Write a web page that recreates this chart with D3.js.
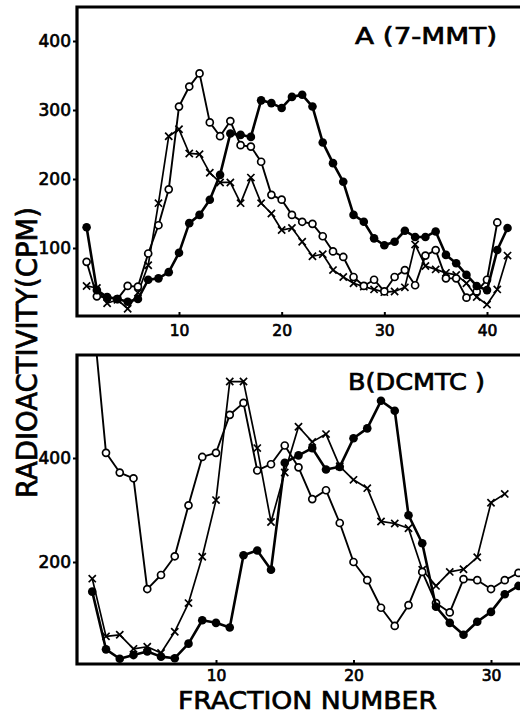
<!DOCTYPE html>
<html lang="en">
  <head>
    <meta charset="UTF-8" />
    <title>Radioactivity by fraction</title>
    <script src="https://d3js.org/d3.v7.min.js"></script>
    <style>
      body {
        margin: 0;
        background: #fff;
      }
      svg {
        display: block;
        font-family: "DejaVu Sans", sans-serif;
      }
      .bold-ish {
        stroke: #000;
        stroke-width: 0.7px;
      }
    </style>
  </head>
  <body>
    <div id="chart"></div>
    <script>
      // panel A (7-MMT), fractions start at 1
      const aFilled = [130, 39, 29, 26, 22, 26, 54, 56, 65, 93, 136, 148, 170, 206, 266, 264, 261, 314, 310, 303, 319, 322, 305, 253, 223, 196, 148, 138, 114, 104, 109, 125, 116, 116, 124, 90, 78, 61, 45, 39, 97, 129];
      const aOpen = [80, 30, 28, 26, 45, 44, 92, 133, 185, 305, 334, 353, 282, 262, 284, 249, 247, 225, 177, 170, 148, 138, 135, 117, 95, 87, 58, 45, 54, 37, 58, 68, 46, 89, 97, 56, 56, 28, 37, 54, 137];
      const aCross = [45, 42, 20, 25, 12, 35, 75, 165, 262, 272, 237, 236, 209, 195, 195, 165, 202, 165, 150, 126, 129, 109, 88, 91, 68, 58, 49, 44, 40, 36, 37, 43, 105, 74, 69, 64, 61, 49, 29, 18, 40, 89];

      // panel B (DCMTC)
      const bFilled = [143, 32, 14, 21, 28, 18, 15, 43, 88, 83, 74, 213, 222, 185, 391, 405, 419, 378, 383, 438, 457, 510, 491, 290, 236, 114, 83, 60, 85, 104, 138, 154];
      const bOpen = [690, 410, 372, 361, 148, 175, 211, 309, 402, 410, 483, 506, 376, 388, 424, 382, 321, 338, 275, 200, 165, 112, 77, 117, 181, 121, 103, 167, 165, 148, 165, 179];
      const bCross = [168, 57, 60, 33, 37, 25, 66, 121, 210, 319, 547, 547, 419, 277, 372, 460, 431, 446, 384, 358, 342, 278, 274, 265, 185, 154, 181, 186, 209, 314, 331];

      const aYTicks = [100, 200, 300, 400];
      const aXTicks = [10, 20, 30, 40];
      const bYTicks = [200, 400];
      const bXTicks = [10, 20, 30];

      const width = 520;
      const height = 714;

      const svg = d3
        .select("#chart")
        .append("svg")
        .attr("width", width)
        .attr("height", height);

      svg.append("rect").attr("width", width).attr("height", height).attr("fill", "#fff");

      const panels = [
        {
          id: "A",
          x: d3.scaleLinear().domain([10, 40]).range([179, 487]),
          y: d3.scaleLinear().domain([100, 400]).range([248, 41]),
          top: 7,
          bottom: 316,
          left: 77,
          xTicks: aXTicks,
          yTicks: aYTicks,
          tickLabelY: 336,
          series: [aFilled, aOpen, aCross],
          label: "A (7-MMT)",
          labelX: 355,
          labelY: 44,
          labelW: 142,
        },
        {
          id: "B",
          x: d3.scaleLinear().domain([10, 30]).range([216, 491]),
          y: d3.scaleLinear().domain([200, 400]).range([562, 458]),
          top: 355,
          bottom: 664,
          left: 77,
          xTicks: bXTicks,
          yTicks: bYTicks,
          tickLabelY: 680.5,
          series: [bFilled, bOpen, bCross],
          label: "B(DCMTC )",
          labelX: 348,
          labelY: 390,
          labelW: 137,
        },
      ];

      const styles = [
        { kind: "filled", width: 2.6 },
        { kind: "open", width: 1.9 },
        { kind: "cross", width: 1.7 },
      ];

      panels.forEach((p) => {
        const g = svg.append("g");

        svg
          .append("clipPath")
          .attr("id", "clip" + p.id)
          .append("rect")
          .attr("x", p.left)
          .attr("y", p.top)
          .attr("width", width - p.left)
          .attr("height", height - p.top);

        const plot = g.append("g").attr("clip-path", `url(#clip${p.id})`);

        // open and crosses underneath, filled on top
        [2, 1, 0].forEach((si) => {
          const vals = p.series[si];
          const st = styles[si];
          const pts = vals.map((v, i) => [p.x(i + 1), p.y(v)]);

          plot
            .append("path")
            .attr("d", d3.line()(pts))
            .attr("fill", "none")
            .attr("stroke", "#000")
            .attr("stroke-width", st.width)
            .attr("stroke-linejoin", "round");

          const m = plot
            .selectAll(null)
            .data(pts)
            .join("g")
            .attr("transform", (d) => `translate(${d[0]},${d[1]})`);

          if (st.kind === "filled") {
            m.append("circle").attr("r", 4.3).attr("fill", "#000");
          } else if (st.kind === "open") {
            m.append("circle")
              .attr("r", 3.5)
              .attr("fill", "#fff")
              .attr("stroke", "#000")
              .attr("stroke-width", 1.7);
          } else {
            m.append("path")
              .attr("d", "M-3.6,-3.6L3.6,3.6M-3.6,3.6L3.6,-3.6")
              .attr("stroke", "#000")
              .attr("stroke-width", 1.7);
          }
        });

        // frame: top, left, bottom (right side is off the page)
        g.append("path")
          .attr("d", `M${width},${p.top}H${p.left}V${p.bottom}H${width}`)
          .attr("fill", "none")
          .attr("stroke", "#000")
          .attr("stroke-width", 3.2);

        const yAxis = d3
          .axisLeft(p.y)
          .tickValues(p.yTicks)
          .tickSize(4)
          .tickPadding(2)
          .tickFormat(d3.format("d"));

        g.append("g")
          .attr("transform", `translate(${p.left},0)`)
          .call(yAxis)
          .call((a) => a.select(".domain").remove())
          .call((a) =>
            a.selectAll(".tick line").attr("stroke", "#000").attr("stroke-width", 2)
          )
          .call((a) =>
            a
              .selectAll(".tick text")
              .attr("class", "bold-ish")
              .attr("font-size", 17)
              .attr("font-family", "DejaVu Sans, sans-serif")
              .attr("fill", "#000")
          );

        const xAxis = d3
          .axisBottom(p.x)
          .tickValues(p.xTicks)
          .tickSizeInner(-4)
          .tickSizeOuter(0)
          .tickPadding(0)
          .tickFormat(d3.format("d"));

        g.append("g")
          .attr("transform", `translate(0,${p.bottom})`)
          .call(xAxis)
          .call((a) => a.select(".domain").remove())
          .call((a) =>
            a.selectAll(".tick line").attr("stroke", "#000").attr("stroke-width", 2)
          )
          .call((a) =>
            a
              .selectAll(".tick text")
              .attr("class", "bold-ish")
              .attr("y", p.tickLabelY - p.bottom)
              .attr("dy", null)
              .attr("font-size", 15.5)
              .attr("font-family", "DejaVu Sans, sans-serif")
              .attr("fill", "#000")
          );

        g.append("text")
          .attr("class", "bold-ish")
          .attr("x", p.labelX)
          .attr("y", p.labelY)
          .attr("font-size", 23)
          .attr("textLength", p.labelW)
          .attr("lengthAdjust", "spacingAndGlyphs")
          .text(p.label);
      });

      // axis titles
      svg
        .append("text")
        .attr("class", "bold-ish")
        .attr("transform", "translate(37,498) rotate(-90)")
        .attr("font-size", 28)
        .attr("textLength", 291)
        .attr("lengthAdjust", "spacingAndGlyphs")
        .text("RADIOACTIVITY(CPM)");

      svg
        .append("text")
        .attr("class", "bold-ish")
        .attr("x", 178)
        .attr("y", 708.5)
        .attr("font-size", 24.5)
        .attr("textLength", 259)
        .attr("lengthAdjust", "spacingAndGlyphs")
        .text("FRACTION NUMBER");
    </script>
  </body>
</html>
